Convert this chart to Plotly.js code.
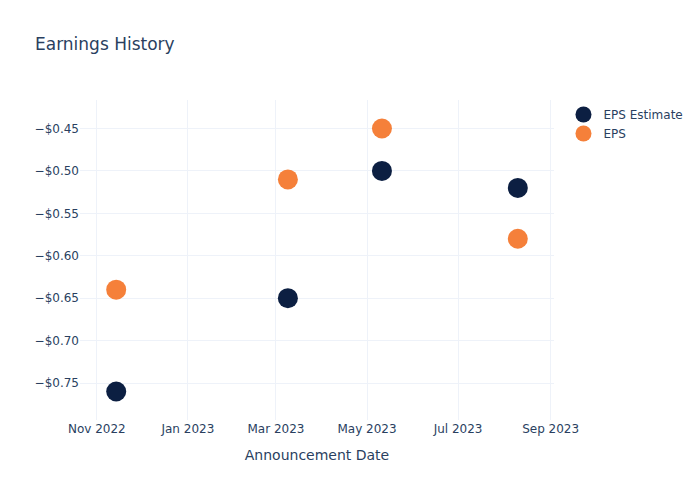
<!DOCTYPE html>
<html>
<head>
<meta charset="utf-8">
<script src="https://cdn.plot.ly/plotly-3.0.1.min.js"></script>
<style>body{margin:0;padding:0;} #chart{width:700px;height:500px;}</style>
</head>
<body>
<div id="chart"></div>
<script>
const dates = ["2022-11-14", "2023-03-09", "2023-05-11", "2023-08-10"];
const epsEstimate = [-0.76, -0.65, -0.50, -0.52];
const eps = [-0.64, -0.51, -0.45, -0.58];
const seriesNames = ["EPS Estimate", "EPS"];

const data = [
  {x: dates, y: epsEstimate, name: seriesNames[0], type: "scatter", mode: "markers",
   marker: {size: 20, color: "#0c1f42"}},
  {x: dates, y: eps, name: seriesNames[1], type: "scatter", mode: "markers",
   marker: {size: 20, color: "#f5803a"}}
];
const layout = {
  width: 700, height: 500,
  template: "plotly_white",
  paper_bgcolor: "#ffffff", plot_bgcolor: "#ffffff",
  font: {family: '"DejaVu Sans", verdana, arial, sans-serif', color: "#2a3f5f", size: 12},
  title: {text: "Earnings History", x: 0.05, font: {size: 17}},
  margin: {l: 80, r: 80, t: 100, b: 80},
  xaxis: {title: {text: "Announcement Date", standoff: 15}, type: "date", gridcolor: "#EEF2F9", showline: false, zeroline: false, tickformat: "%b %Y", dtick: "M2"},
  yaxis: {tickformat: "$.2f", gridcolor: "#EEF2F9", zeroline: false, dtick: 0.05},
  legend: {font: {size: 12}},
  showlegend: true
};
Plotly.newPlot("chart", data, layout, {displayModeBar: false});
</script>
</body>
</html>
